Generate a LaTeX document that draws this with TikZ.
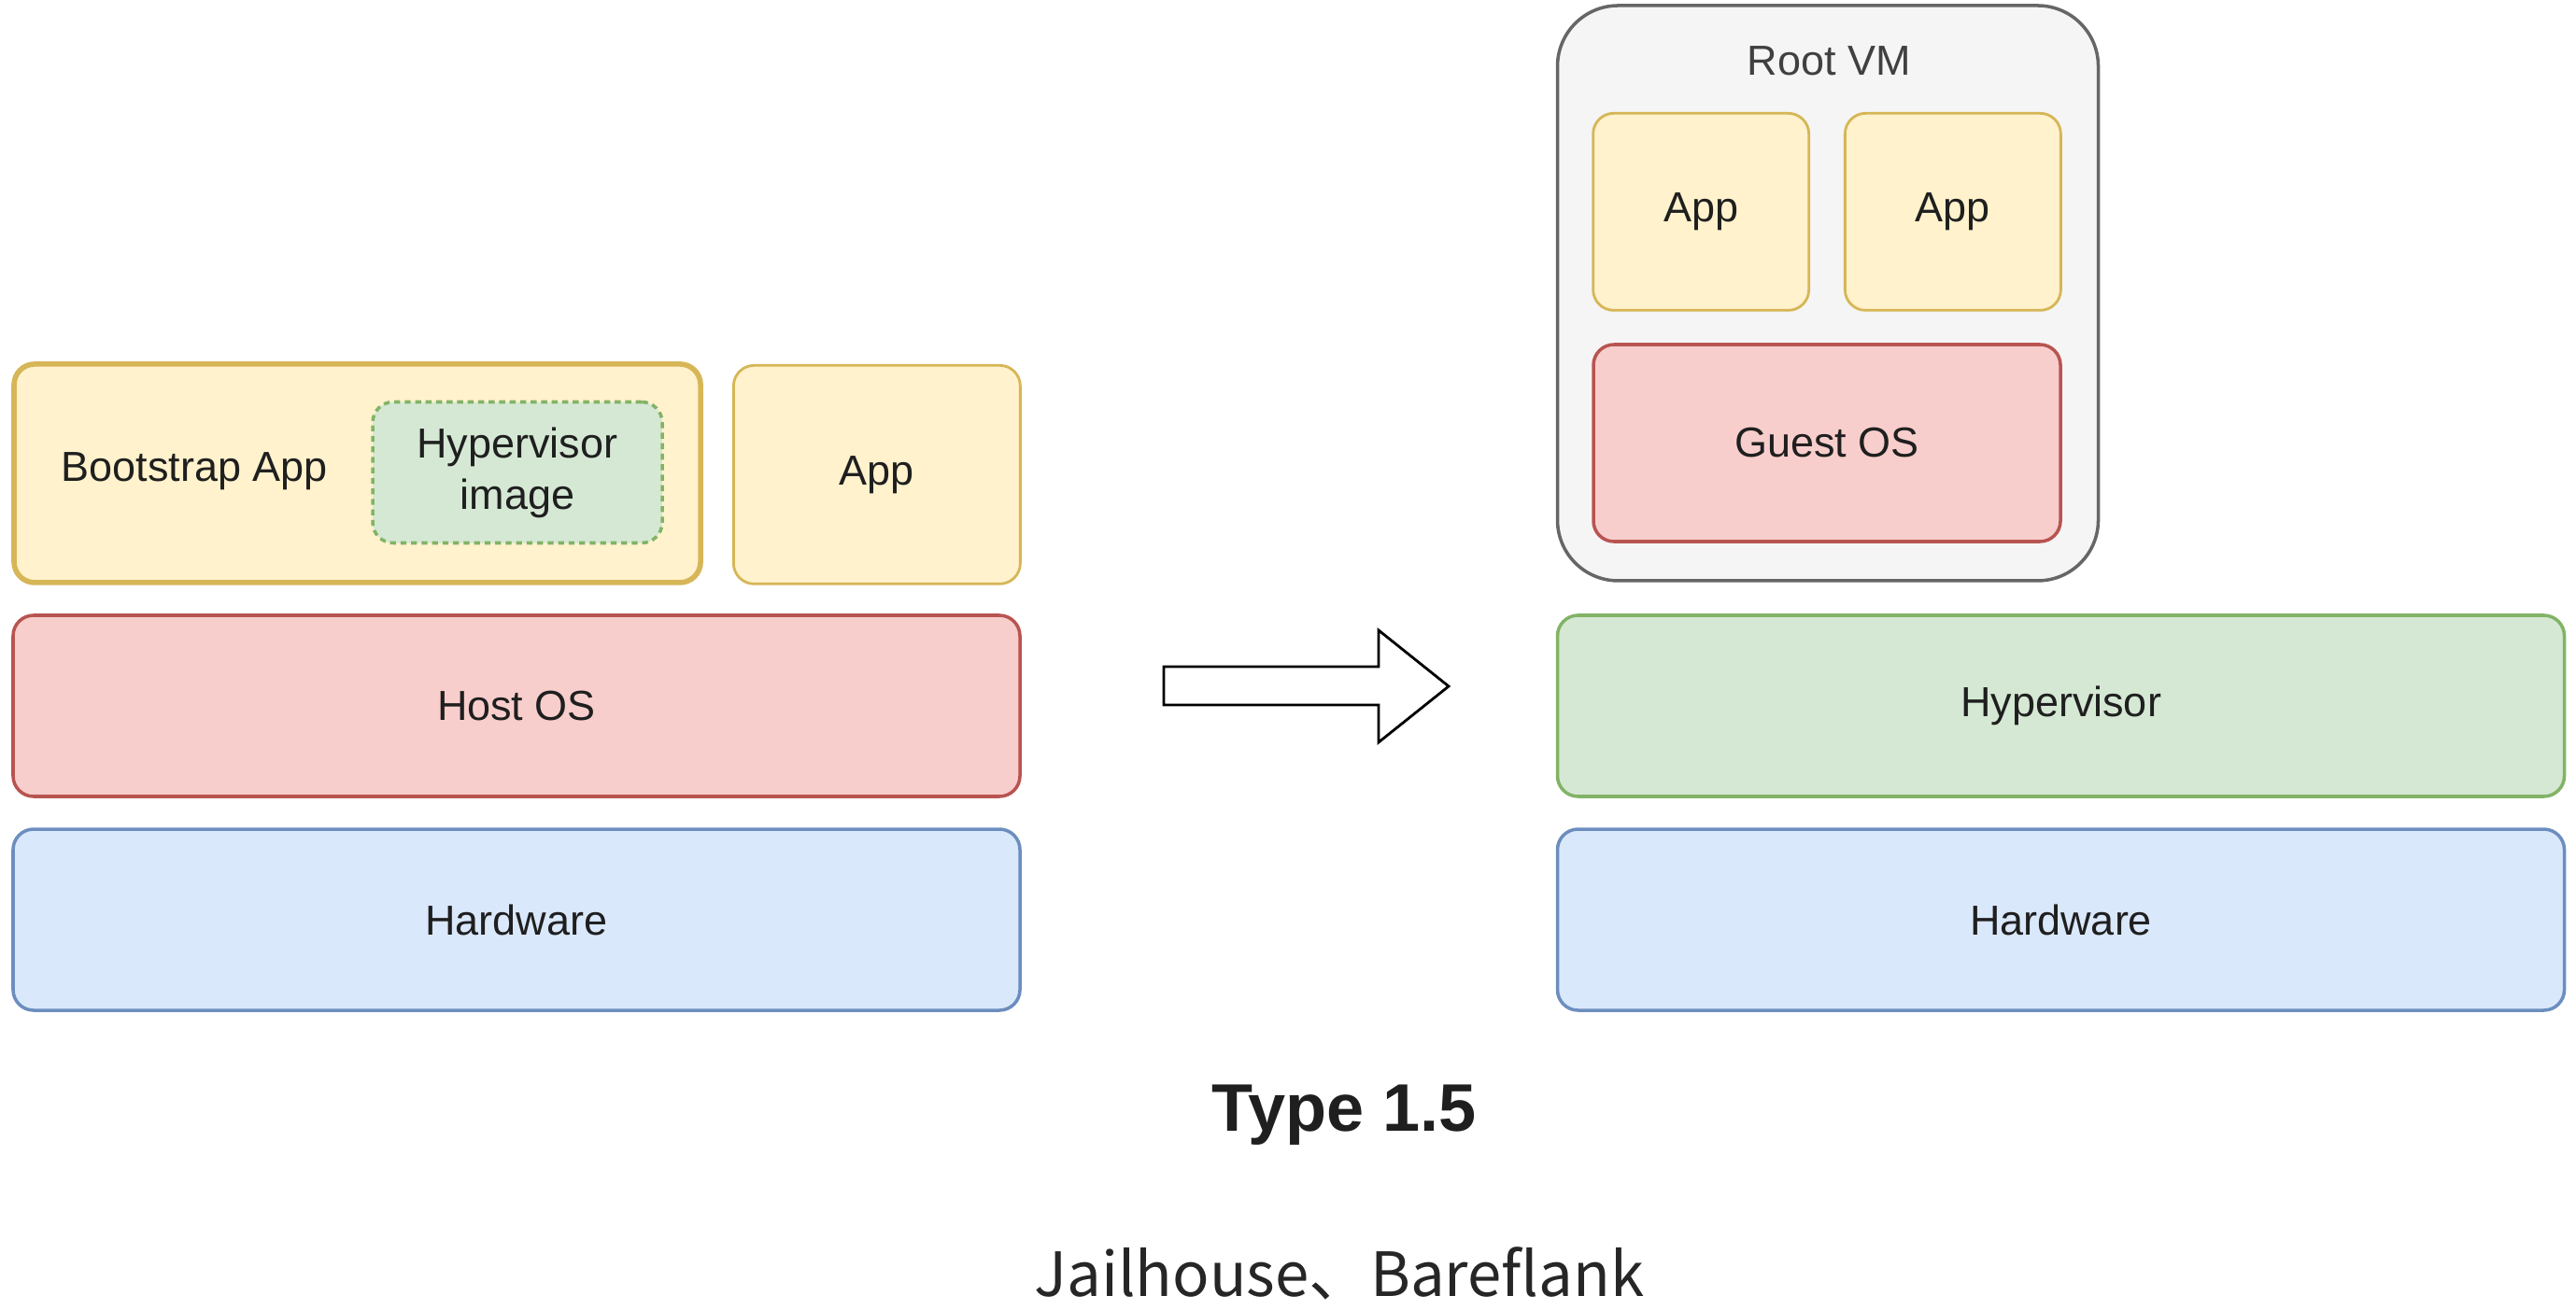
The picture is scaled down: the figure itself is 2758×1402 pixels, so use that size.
\documentclass[tikz,border=0pt]{standalone}
\usepackage{fontspec}
\setmainfont{Liberation Sans}
\newfontfamily\cjk{Noto Sans CJK SC}
\usetikzlibrary{positioning}
\definecolor{yellowfill}{HTML}{FFF2CC}
\definecolor{yellowline}{HTML}{D6B656}
\definecolor{redfill}{HTML}{F8CECC}
\definecolor{redline}{HTML}{B85450}
\definecolor{bluefill}{HTML}{DAE8FC}
\definecolor{blueline}{HTML}{6C8EBF}
\definecolor{greenfill}{HTML}{D5E8D4}
\definecolor{greenline}{HTML}{82B366}
\definecolor{grayfill}{HTML}{F5F5F5}
\definecolor{grayline}{HTML}{666666}
\tikzstyle{caption} = [font=\fontsize{12.8}{15.6}\selectfont, text=black!88, align=center, inner sep=2pt]
\tikzstyle{block} = [caption, rectangle, rounded corners=2.2mm, line width=1pt]
\tikzstyle{layer} = [block, minimum width=107.8mm, minimum height=19.4mm]
\tikzstyle{app} = [draw=yellowline, block, fill=yellowfill, line width=0.8pt]
\tikzstyle{os} = [draw=redline, block, fill=redfill]
\tikzstyle{hardware} = [draw=blueline, layer, fill=bluefill]
\tikzstyle{hypervisor} = [draw=greenline, block, fill=greenfill]
\tikzstyle{vm} = [draw=grayline, block, fill=grayfill, rounded corners=6.5mm]

\begin{document}
\begin{tikzpicture}[x=0.1mm, y=-0.1mm, node distance=3.15mm]
    \useasboundingbox (0,0) rectangle (2758,1402);

    % Before.
    \node (hardware l) [hardware] at (553,985) {Hardware};
    \node (host) [os, layer, above=of hardware l] {Host OS};
    \node (bootstrap) [app, line width=1.6pt, minimum width=73.5mm, minimum height=23.4mm, above right=3.05mm and 0mm of host.north west] {};
    \node (app l) [app, minimum width=30.7mm, minimum height=23.4mm, above left=3.05mm and 0mm of host.north east] {App};
    \node (image) [hypervisor, dashed, dash pattern=on 1.8pt off 1.4pt, minimum width=31mm, minimum height=15.1mm] at (554,506) {Hypervisor\\image};
    \node (bootstrap label) [caption, anchor=west] at (58,505) {Bootstrap App};

    % Arrow.
    \draw [line width=0.8pt, line join=miter] (1246,714) -- (1476,714) -- (1476,675) -- (1551,735)
        -- (1476,795) -- (1476,755) -- (1246,755) -- cycle;

    % After.
    \node (hardware r) [hardware] at (2206.5,985) {Hardware};
    \node (hypervisor) [hypervisor, layer, above=of hardware r] {Hypervisor};
    \node (root) [vm, minimum width=57.9mm, minimum height=61.6mm, above right=3.35mm and 0mm of hypervisor.north west] {};
    \node (root label) [caption, text=black!75] at (1958,65) {Root VM};
    \node (guest) [os, minimum width=50mm, minimum height=21.1mm] at (1956,474.5) {Guest OS};
    \node (app a) [app, minimum width=23.1mm, minimum height=21.1mm, above right=3.35mm and 0mm of guest.north west] {App};
    \node (app b) [app, minimum width=23.1mm, minimum height=21.1mm, above left=3.35mm and 0mm of guest.north east] {App};

    % Captions.
    \node (type) [anchor=base, font=\fontsize{20.5}{24}\bfseries, text=black!88] at (1439,1211) {Type 1.5};
    \node (examples) [anchor=base, font=\cjk\fontsize{18.6}{22}\selectfont, text=black!85] at (1434,1388) {Jailhouse、Bareflank};
\end{tikzpicture}
\end{document}
